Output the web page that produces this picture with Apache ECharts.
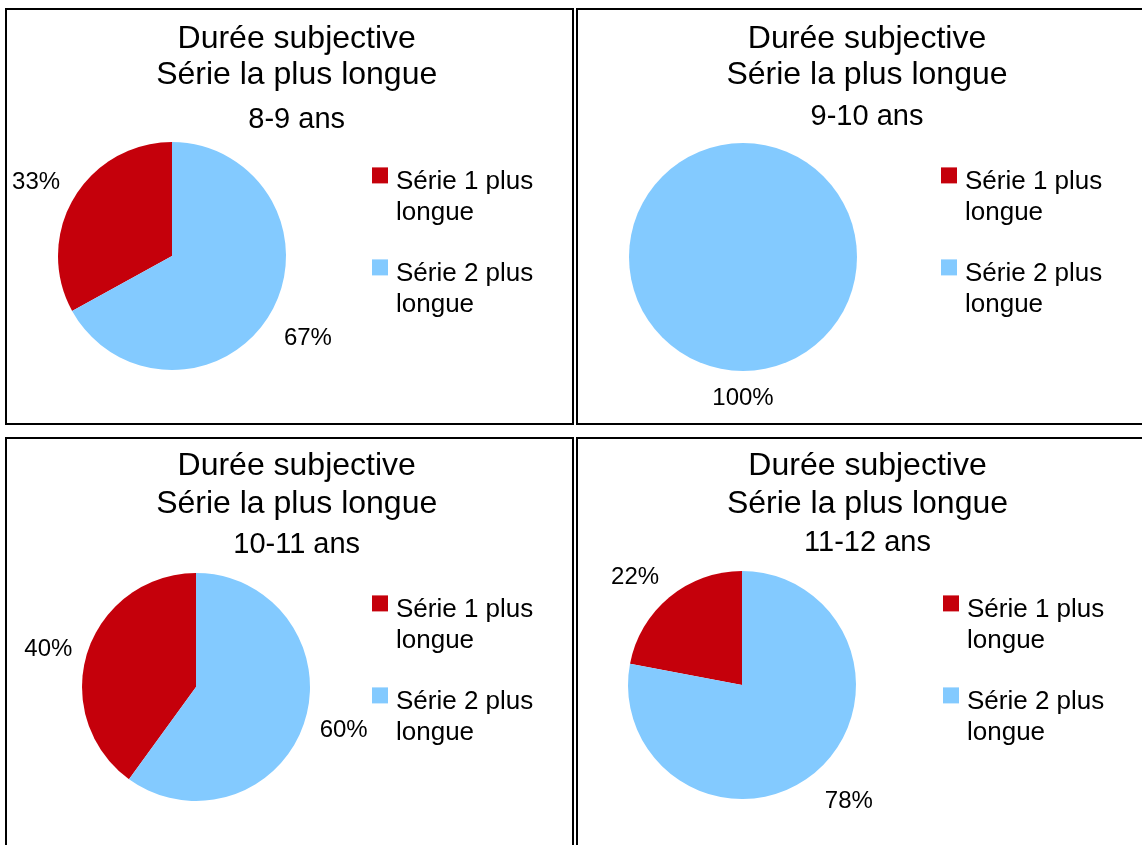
<!DOCTYPE html>
<html><head><meta charset="utf-8">
<script src="https://cdn.jsdelivr.net/npm/echarts@6/dist/echarts.min.js"></script>
<style>html,body{margin:0;padding:0;background:#fff}#c{width:1142px;height:845px}</style>
</head><body><div id="c"></div>
<script>
// ---- data ----
const titleLine1 = 'Durée subjective';
const titleLine2 = 'Série la plus longue';
const ageGroups = ['8-9 ans', '9-10 ans', '10-11 ans', '11-12 ans'];
const categories = ['Série 1 plus longue', 'Série 2 plus longue'];
const serie1Pct = [33, 0, 40, 22];
const serie2Pct = [67, 100, 60, 78];

// ---- styles / layout ----
const colors = ['#C5000B', '#83CAFF'];
const FONT = '"Liberation Sans", Arial, sans-serif';
const R = 114;          // pie radius
const LABEL_D = 130;    // distance of label anchor from pie centre
const panels = [
  {x: 6,   y: 9,   tx: 296.7, t1: 38.9,  t2: 75.6,  sub: 120,   cx: 172, cy: 256, lx: 372, ly: 122.4},
  {x: 577, y: 9,   tx: 867,   t1: 38.9,  t2: 75.6,  sub: 116.7, cx: 743, cy: 257, lx: 941, ly: 122.4},
  {x: 6,   y: 438, tx: 296.7, t1: 466.5, t2: 504,   sub: 545,   cx: 196, cy: 687, lx: 372, ly: 550.4},
  {x: 577, y: 438, tx: 867.5, t1: 466.5, t2: 504,   sub: 543,   cx: 742, cy: 685, lx: 943, ly: 550.4}
];

const graphics = [];
panels.forEach((p, i) => {
  graphics.push({type: 'rect', shape: {x: p.x, y: p.y, width: 567, height: 415},
    style: {fill: 'none', stroke: '#000', lineWidth: 2}, silent: true});
  graphics.push({type: 'text', x: p.tx, y: p.t1, silent: true,
    style: {text: titleLine1, fontSize: 32, fontFamily: FONT, fill: '#000', align: 'center', verticalAlign: 'middle'}});
  graphics.push({type: 'text', x: p.tx, y: p.t2, silent: true,
    style: {text: titleLine2, fontSize: 32, fontFamily: FONT, fill: '#000', align: 'center', verticalAlign: 'middle'}});
  graphics.push({type: 'text', x: p.tx, y: p.sub, silent: true,
    style: {text: ageGroups[i], fontSize: 29, fontFamily: FONT, fill: '#000', align: 'center', verticalAlign: 'middle'}});
});

// mid angles (radians) of every slice, derived from the data
const midAngles = panels.map((p, i) => {
  const vals = [serie1Pct[i], serie2Pct[i]];
  let acc = 0;
  return vals.map(v => { const m = (90 + (acc + v / 2) * 3.6) * Math.PI / 180; acc += v; return m; });
});

function placeLabel(params) {
  const a = midAngles[params.seriesIndex][params.dataIndex];
  const c = Math.cos(a), s = Math.sin(a);
  const W = params.labelRect.width, H = params.labelRect.height;
  const lim = Math.sin(22.5 * Math.PI / 180);
  let dx = 0, dy = 0;
  if (Math.abs(s) < lim) { dx = Math.sign(c) * W / 2; dy = 3; }
  else if (Math.abs(c) < lim) { dy = (s > 0 ? -0.4 : 0.4) * H + 2; }
  else { dx = Math.sign(c) * W / 2; dy = (s > 0 ? -0.4 : 0.6) * H + 2; }
  return {align: 'center', verticalAlign: 'middle', dx: dx, dy: dy};
}

const series = panels.map((p, i) => {
  const vals = [serie1Pct[i], serie2Pct[i]];
  const data = categories.map((name, k) => ({
    name: name, value: vals[k], itemStyle: {color: colors[k], borderWidth: 0}
  }));
  return {
    type: 'pie', center: [p.cx, p.cy], radius: R, startAngle: 90, clockwise: false,
    avoidLabelOverlap: false, animation: false, legendHoverLink: false,
    data: data,
    label: {show: true, position: 'outside', distanceToLabelLine: 0,
      formatter: d => d.value > 0 ? d.value + '%' : '',
      fontSize: 24, fontFamily: FONT, color: '#000'},
    labelLine: {show: false, length: LABEL_D - R, length2: 0},
    labelLayout: placeLabel,
    itemStyle: {borderWidth: 0},
    emphasis: {disabled: true}
  };
});

const legends = panels.map(p => ({
  left: p.lx, top: p.ly, orient: 'vertical', padding: 0,
  itemWidth: 16, itemHeight: 16, itemGap: -14, icon: 'rect',
  selectedMode: false,
  data: categories,
  formatter: name => '{e| }\n' + name.replace(/ (\S+)$/, '\n$1'),
  textStyle: {fontSize: 26, lineHeight: 31, fontFamily: FONT, color: '#000', padding: [0, 0, 0, 3],
    rich: {e: {fontSize: 26, lineHeight: 44, fontFamily: FONT}}}
}));

const chart = echarts.init(document.getElementById('c'), null, {renderer: 'canvas'});
chart.setOption({
  backgroundColor: '#fff',
  animation: false,
  legend: legends,
  series: series,
  graphic: graphics
});
</script></body></html>
